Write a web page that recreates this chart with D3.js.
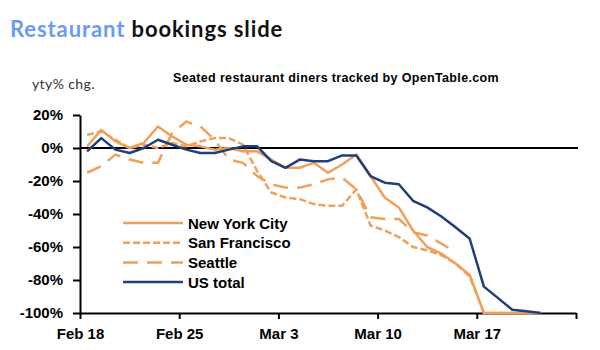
<!DOCTYPE html>
<html>
  <head>
    <meta charset="utf-8">
    <style>
        body { margin: 0; background: #fff; }
        .axis text { font: bold 15px "Liberation Sans", Arial, sans-serif; fill: #000; }
        .axis path, .axis line { fill: none; stroke: #000; stroke-width: 2px; }
        .legend text { font: bold 15px "Liberation Sans", Arial, sans-serif; }
    </style>
    <script src="https://d3js.org/d3.v7.min.js" charset="utf-8"></script>
  </head>
  <body>
    <svg class="chart" width="600" height="350"></svg>
    <script>

      // daily points, Feb 18 .. Mar 21 (2020)
      const days = ["2020-02-18","2020-02-19","2020-02-20","2020-02-21","2020-02-22","2020-02-23","2020-02-24",
        "2020-02-25","2020-02-26","2020-02-27","2020-02-28","2020-02-29","2020-03-01","2020-03-02",
        "2020-03-03","2020-03-04","2020-03-05","2020-03-06","2020-03-07","2020-03-08","2020-03-09",
        "2020-03-10","2020-03-11","2020-03-12","2020-03-13","2020-03-14","2020-03-15","2020-03-16",
        "2020-03-17","2020-03-18","2020-03-19","2020-03-20","2020-03-21"];

      const nyc = [1, 11, 4, 0, 3, 13, 7, 2, 1, -1, 0, -2, -2, -7, -12, -12, -9, -15, -10, -4, -17,
        -30, -36, -50, -60, -64, -70, -77, -100, -100, -100, -100, -100];
      const sanFrancisco = [8, 10, 5, 0, 2, 0, 3, 1, 4, 6, 6, 2, -14, -27, -30, -31, -34, -35, -35, -25, -47,
        -50, -54, -60, -62, -65, -70, -78, -100, -100, -100, -100, -100];
      const seattle = [-15, -11, -4, -7, -9, -9, 9, 16, 13, 5, -7, -9, -17, -22, -24, -24, -22, -19, -18, -25, -42,
        -43, -43, -51, -53, -58, -63];
      const usTotal = [-2, 6, -1, -3, 0, 5, 2, -1, -3, -3, -1, 1, 1, -8, -12, -7, -8, -8, -4.5, -4.5, -17,
        -21, -22, -32, -36, -41.5, -48, -55, -84, -91, -98, -99, -100];

      const tickDays = ["2020-02-18","2020-02-25","2020-03-03","2020-03-10","2020-03-17","2020-03-24"];
      const tickLabels = ["Feb 18", "Feb 25", "Mar 3", "Mar 10", "Mar 17", ""];
      const yTicks = [20, 0, -20, -40, -60, -80, -100];

      const orange = "#f0a05a", navy = "#1f3f7a";

      const series = [
        {name: "New York City", values: nyc, color: orange, dash: null},
        {name: "San Francisco", values: sanFrancisco, color: orange, dash: "7,3"},
        {name: "Seattle", values: seattle, color: orange, dash: "15,9"},
        {name: "US total", values: usTotal, color: navy, dash: null}
      ];

      const parse = d3.utcParse("%Y-%m-%d");
      const svg = d3.select(".chart");

      const xScale = d3.scaleUtc()
        .domain([parse(tickDays[0]), parse(tickDays[tickDays.length - 1])])
        .range([80, 576]);
      const yScale = d3.scaleLinear()
        .domain([-100, 20])
        .range([313, 115]);

      // points sit in the middle of each day
      const xPos = i => xScale(d3.utcHour.offset(parse(days[i]), 12));

      // titles
      const title = svg.append("text")
        .attr("x", 10).attr("y", 37)
        .attr("font-family", "Lato, 'DejaVu Sans', sans-serif")
        .attr("font-weight", "bold")
        .attr("font-size", 22)
        .attr("letter-spacing", 0.9);
      title.append("tspan").attr("fill", "#6a9bef").text("Restaurant");
      title.append("tspan").attr("fill", "#111").text(" bookings slide");

      svg.append("text")
        .attr("x", 336).attr("y", 82)
        .attr("text-anchor", "middle")
        .attr("font-family", "'Liberation Sans', Arial, sans-serif")
        .attr("font-weight", "bold")
        .attr("font-size", 12.5)
        .attr("letter-spacing", 0.35)
        .text("Seated restaurant diners tracked by OpenTable.com");

      svg.append("text")
        .attr("x", 32).attr("y", 89)
        .attr("font-family", "Lato, 'DejaVu Sans', sans-serif")
        .attr("font-size", 14)
        .attr("letter-spacing", 0.4)
        .attr("fill", "#333")
        .text("yty% chg.");

      // axes
      const yAxis = d3.axisLeft(yScale)
        .tickValues(yTicks)
        .tickSize(7)
        .tickSizeOuter(0)
        .tickPadding(10)
        .tickFormat(d => d + "%");
      svg.append("g")
        .attr("class", "y axis")
        .attr("transform", "translate(80,0)")
        .call(yAxis);

      const xAxis = d3.axisBottom(xScale)
        .tickValues(tickDays.map(parse))
        .tickSize(6)
        .tickSizeOuter(0)
        .tickPadding(9)
        .tickFormat((d, i) => tickLabels[i]);
      svg.append("g")
        .attr("class", "x axis")
        .attr("transform", "translate(0,313)")
        .call(xAxis);

      // zero line
      svg.append("line")
        .attr("x1", 80).attr("x2", 578)
        .attr("y1", yScale(0)).attr("y2", yScale(0))
        .attr("stroke", "#000")
        .attr("stroke-width", 2.2);

      const line = d3.line()
        .x((d, i) => xPos(i))
        .y(d => yScale(d));

      svg.selectAll(".series")
        .data(series)
        .enter()
        .append("path")
        .attr("class", "series")
        .attr("fill", "none")
        .attr("stroke", d => d.color)
        .attr("stroke-width", 2.5)
        .attr("stroke-linejoin", "round")
        .attr("stroke-dasharray", d => d.dash)
        .attr("d", d => line(d.values));

      // legend
      const legend = svg.append("g").attr("class", "legend");
      const rows = legend.selectAll("g")
        .data(series)
        .enter()
        .append("g")
        .attr("transform", (d, i) => `translate(123, ${223 + i * 19.7})`);
      rows.append("line")
        .attr("x1", 0).attr("x2", 60)
        .attr("stroke", d => d.color)
        .attr("stroke-width", 2.5)
        .attr("stroke-dasharray", d => d.dash);
      rows.append("text")
        .attr("x", 65).attr("y", 5.5)
        .attr("fill", "#000")
        .text(d => d.name);

    </script>
  </body>
</html>
